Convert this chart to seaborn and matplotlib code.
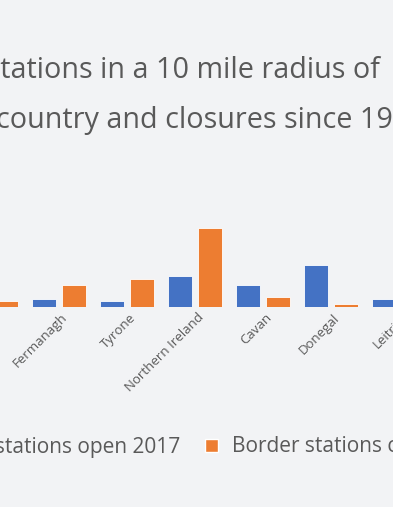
import numpy as np
import pandas as pd
import seaborn as sns
from matplotlib import pyplot as plt
from matplotlib.patches import Patch
from matplotlib.transforms import ScaledTranslation

# data (the picture is a crop of a wider chart)
counties = ["Armagh", "Fermanagh", "Tyrone", "Northern Ireland", "Cavan", "Donegal", "Leitrim"]
open_2017 = [3.0, 2.3, 1.7, 8.9, 6.3, 12.1, 2.3]
closed_since_1990 = [1.7, 6.3, 8.1, 22.6, 2.9, 1.0, 1.0]
series_names = ["Border stations open 2017", "Border stations closed since 1990"]
title_line1 = "Police stations in a 10 mile radius of"
title_line2 = "the border by country and closures since 1990"

BG = "#f2f3f5"
TEXT = "#595959"
BLUE = "#4472c4"
ORANGE = "#ed7d31"
W, H, DPI = 393, 507, 100

df = pd.DataFrame({
    "county": counties * 2,
    "stations": open_2017 + closed_since_1990,
    "series": [series_names[0]] * len(counties) + [series_names[1]] * len(counties),
})

sns.set_theme(style="white")
plt.rcParams['font.family'] = ['Open Sans', 'DejaVu Sans']

fig = plt.figure(figsize=(W / DPI, H / DPI), dpi=DPI, facecolor=BG)
r = fig.canvas.get_renderer()


def text_width(s, fs):
    t = fig.text(0, 0, s, fontsize=fs)
    w = t.get_window_extent(r).width
    t.remove()
    return w


# axes run past both figure edges
x0, x1 = -43, 433
base, top = 307, 307 - 25 * 3.5
ax = fig.add_axes([x0 / W, 1 - base / H, (x1 - x0) / W, (base - top) / H])
ax.set_facecolor(BG)
sns.barplot(data=df, x="county", y="stations", hue="series", palette=[BLUE, ORANGE], saturation=1,
            width=0.9, gap=0.22, edgecolor="white", linewidth=0.6, ax=ax, legend=False)
ax.set_xlim(-0.5, 6.5)
ax.set_ylim(0, 25)
ax.set_xlabel("")
ax.set_ylabel("")
ax.set_yticks([])
ax.set_xticks(range(len(counties)))
ax.set_xticklabels(counties, rotation=45, ha='right', rotation_mode='anchor', color=TEXT, fontsize=9.5)
ax.tick_params(axis='x', length=0, pad=3)
shift = ScaledTranslation(2 / DPI, 0, fig.dpi_scale_trans)
for lab in ax.get_xticklabels():
    lab.set_transform(lab.get_transform() + shift)
sns.despine(ax=ax, left=True, bottom=True)

# title, two lines, clipped at both edges
fs_title = 20.7
fig.text(380 / W, 1 - 78 / H, title_line1, ha='right', va='baseline', fontsize=fs_title, color=TEXT)
# line 2: "...since 19" ends at the right edge
w_shown = text_width("the border by country and closures since 19", fs_title)
fig.text((393 - w_shown) / W, 1 - 128 / H, title_line2, ha='left', va='baseline', fontsize=fs_title, color=TEXT)

# legend, shifted so the orange key sits where it does in the picture
handles = [Patch(facecolor=BLUE), Patch(facecolor=ORANGE)]
leg_kw = dict(ncol=2, loc='center left', frameon=False, fontsize=15, handlelength=0.6, handleheight=0.6,
              handletextpad=0.7, columnspacing=1.2, labelcolor=TEXT)
leg = fig.legend(handles, series_names, bbox_to_anchor=(0, 1 - 447 / H), **leg_kw)
fig.canvas.draw()
dx = 205 - leg.legend_handles[1].get_window_extent(r).x0
leg.remove()
leg = fig.legend(handles, series_names, bbox_to_anchor=(dx / W, 1 - 447 / H), **leg_kw)

fig.savefig("out.png", dpi=DPI, facecolor=BG)
